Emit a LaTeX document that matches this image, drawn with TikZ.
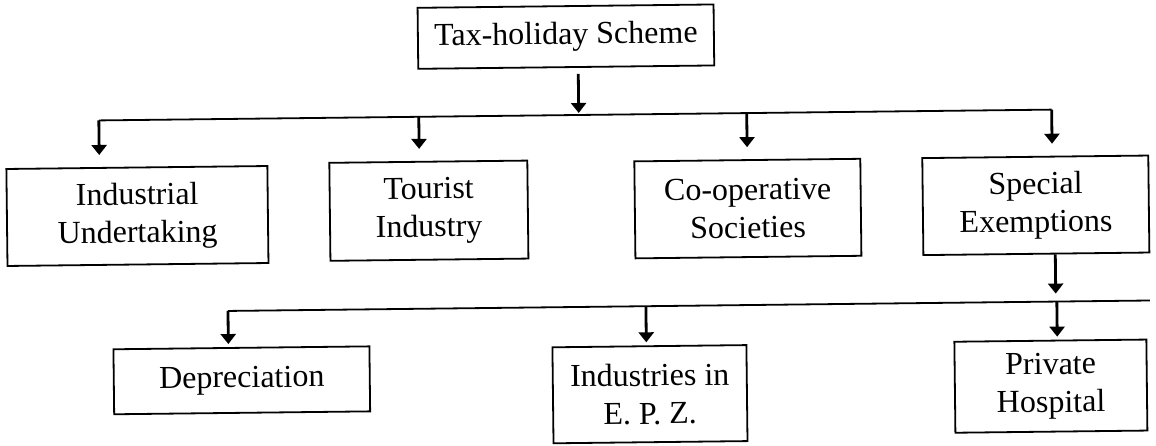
\documentclass[tikz,border=0pt]{standalone}
\usepackage{fontspec}
\setmainfont{Liberation Serif}
\usetikzlibrary{arrows.meta}
\begin{document}
\begin{tikzpicture}[x=1pt,y=-1pt,
  box/.style={draw, line width=1.8pt, inner sep=0pt, align=center,
    font=\fontsize{32}{38}\selectfont, transform shape},
  arr/.style={line width=2.8pt, -{Triangle[width=15pt,length=10pt]}},
  bus/.style={line width=1.8pt}]
\useasboundingbox (0,0) rectangle (1156,445);
\begin{scope}[rotate around={0.65:(578,222)}]
  % root
  \node[box, minimum width=296pt, minimum height=61pt] (top) at (568,36.5) {Tax-holiday Scheme};
  % first level
  \node[box, minimum width=261pt, minimum height=97pt] (ind)  at (137.5,211) {Industrial\\Undertaking};
  \node[box, minimum width=198pt, minimum height=98pt] (tour) at (429,209)   {Tourist\\Industry};
  \node[box, minimum width=226pt, minimum height=97pt] (coop) at (748,210.5) {Co-operative\\Societies};
  \node[box, minimum width=226pt, minimum height=97pt] (spec) at (1036,210.5) {Special\\Exemptions};
  % second level
  \node[box, minimum width=256pt, minimum height=65pt] (dep)  at (240,376.5) {Depreciation};
  \node[box, minimum width=194pt, minimum height=96pt] (epz)  at (648,395)   {Industries in\\E. P. Z.};
  \node[box, minimum width=192pt, minimum height=91pt] (hosp) at (1049,391.5) {Private\\Hospital};

  % upper distribution line
  \coordinate (j0) at (580,113);
  \coordinate (b1l) at (100,115);
  \coordinate (b1t) at (420,115);
  \coordinate (b1c) at (748,115);
  \coordinate (b1r) at (1053,115);
  \draw[arr, shorten <=6pt] (top.south -| j0) -- (j0);
  \draw[bus] (b1l) -- (b1r);
  \draw[arr, shorten >=12pt] (b1l) -- (b1l |- ind.north);
  \draw[arr, shorten >=12pt] (b1t) -- (b1t |- tour.north);
  \draw[arr, shorten >=12pt] (b1c) -- (b1c |- coop.north);
  \draw[arr, shorten >=12pt] (b1r) -- (b1r |- spec.north);

  % lower distribution line
  \coordinate (s0) at (1055,299);
  \coordinate (b2l) at (227,307);
  \coordinate (b2m) at (645,307);
  \coordinate (b2h) at (1056,307);
  \coordinate (b2e) at (1149,307);
  \draw[arr] (spec.south -| s0) -- (s0);
  \draw[bus] (b2l) -- (b2e);
  \draw[arr, shorten >=3pt] (b2l) -- (b2l |- dep.north);
  \draw[arr, shorten >=3pt] (b2m) -- (b2m |- epz.north);
  \draw[arr, shorten >=3pt] (b2h) -- (b2h |- hosp.north);
\end{scope}
\end{tikzpicture}
\end{document}
